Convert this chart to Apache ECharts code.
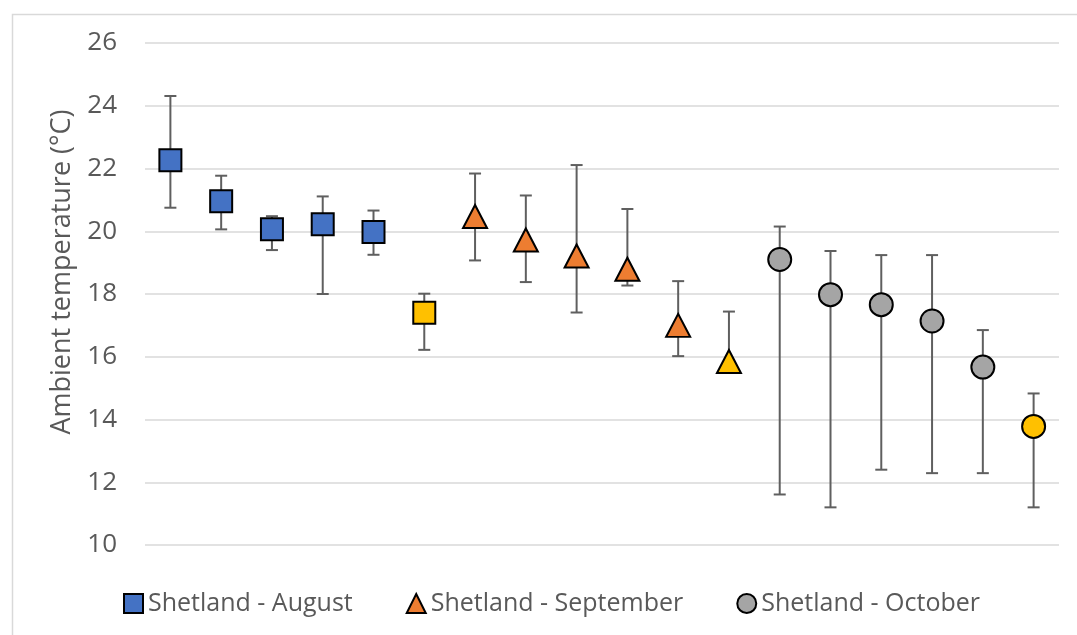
<!DOCTYPE html>
<html>
<head>
<meta charset="utf-8">
<script src="https://cdn.jsdelivr.net/npm/echarts@6/dist/echarts.min.js"></script>
<style>
  html, body { margin: 0; padding: 0; background: #ffffff; }
  #chart { width: 1077px; height: 635px; }
</style>
</head>
<body>
<div id="chart"></div>
<script>
// Sampling sites along the x axis (18 positions, six per month)
const categories = ['1', '2', '3', '4', '5', '6', '7', '8', '9', '10', '11', '12', '13', '14', '15', '16', '17', '18'];

// Mean ambient temperature (°C) with upper / lower error-bar limits
const augustMean = [22.26, 20.96, 20.06, 20.22, 19.98, 17.40];
const augustHigh = [24.31, 21.77, 20.48, 21.11, 20.66, 18.01];
const augustLow  = [20.75, 20.06, 19.40, 18.00, 19.25, 16.22];

const septemberMean = [20.47, 19.72, 19.21, 18.79, 17.00, 15.85];
const septemberHigh = [21.84, 21.14, 22.11, 20.71, 18.41, 17.44];
const septemberLow  = [19.07, 18.38, 17.41, 18.27, 16.02, 15.70];

const octoberMean = [19.10, 17.98, 17.66, 17.14, 15.67, 13.78];
const octoberHigh = [20.15, 19.37, 19.24, 19.24, 16.85, 14.83];
const octoberLow  = [11.61, 11.20, 12.40, 12.29, 12.29, 11.20];

// Index (within each month) of the point drawn in the highlight colour
const highlightIndex = 5;

const yTicks = { min: 10, max: 26, interval: 2 };
const seriesNames = ['Shetland - August', 'Shetland - September', 'Shetland - October'];

const FONT = 'Open Sans';
const TEXT = '#595959';
const HIGHLIGHT = '#FFC000';

const months = [
  { name: seriesNames[0], mean: augustMean, high: augustHigh, low: augustLow, offset: 0, color: '#4472C4', symbol: 'rect', size: 22 },
  { name: seriesNames[1], mean: septemberMean, high: septemberHigh, low: septemberLow, offset: 6, color: '#ED7D31', symbol: 'triangle', size: [24, 23] },
  { name: seriesNames[2], mean: octoberMean, high: octoberHigh, low: octoberLow, offset: 12, color: '#A5A5A5', symbol: 'circle', size: 23 }
];

function errorBarItem(params, api) {
  const x = api.value(0);
  const top = api.coord([x, api.value(1)]);
  const bottom = api.coord([x, api.value(2)]);
  const half = 6;
  const style = { stroke: '#5f5f5f', lineWidth: 2 };
  return {
    type: 'group',
    children: [
      { type: 'line', shape: { x1: top[0], y1: top[1], x2: bottom[0], y2: bottom[1] }, style },
      { type: 'line', shape: { x1: top[0] - half, y1: top[1], x2: top[0] + half, y2: top[1] }, style },
      { type: 'line', shape: { x1: bottom[0] - half, y1: bottom[1], x2: bottom[0] + half, y2: bottom[1] }, style }
    ]
  };
}

const series = [];
months.forEach(m => {
  series.push({
    type: 'custom',
    name: m.name + ' error',
    renderItem: errorBarItem,
    encode: { x: 0, y: [1, 2] },
    data: m.mean.map((_, i) => [m.offset + i, m.high[i], m.low[i]]),
    z: 1,
    silent: true
  });
});
months.forEach(m => {
  series.push({
    type: 'scatter',
    name: m.name,
    symbol: m.symbol,
    symbolSize: m.size,
    itemStyle: { color: m.color, borderColor: '#000000', borderWidth: 2, opacity: 1 },
    data: m.mean.map((v, i) => {
      const item = { value: [m.offset + i, v] };
      if (i === highlightIndex) item.itemStyle = { color: HIGHLIGHT };
      return item;
    }),
    z: 3
  });
});

const chart = echarts.init(document.getElementById('chart'), null, { renderer: 'canvas' });
chart.setOption({
  animation: false,
  backgroundColor: '#ffffff',
  textStyle: { fontFamily: FONT },
  grid: { left: 145, right: 18, top: 43, bottom: 90, containLabel: false },
  xAxis: {
    type: 'category',
    data: categories,
    boundaryGap: true,
    axisLine: { show: false },
    axisTick: { show: false },
    axisLabel: { show: false },
    splitLine: { show: false }
  },
  yAxis: {
    type: 'value',
    min: yTicks.min,
    max: yTicks.max,
    interval: yTicks.interval,
    axisLine: { show: false },
    axisTick: { show: false },
    axisLabel: { color: TEXT, fontSize: 26, fontFamily: FONT, margin: 28 },
    splitLine: { lineStyle: { color: '#D9D9D9', width: 1.5 } }
  },
  legend: {
    data: seriesNames,
    left: 118,
    top: 586,
    itemWidth: 19,
    itemHeight: 19,
    itemGap: 53,
    textStyle: { color: TEXT, fontSize: 25, fontFamily: FONT },
    selectedMode: false
  },
  graphic: [
    {
      type: 'rect',
      left: 10, top: 12,
      shape: { width: 1100, height: 700 },
      style: { fill: 'none', stroke: '#D9D9D9', lineWidth: 1.5 },
      silent: true, z: -10
    },
    {
      type: 'text',
      x: 62, y: 272,
      rotation: Math.PI / 2,
      style: {
        text: 'Ambient temperature (°C)',
        fill: TEXT, fontSize: 27, fontFamily: FONT,
        align: 'center', verticalAlign: 'middle'
      }
    }
  ],
  series
});
</script>
</body>
</html>
